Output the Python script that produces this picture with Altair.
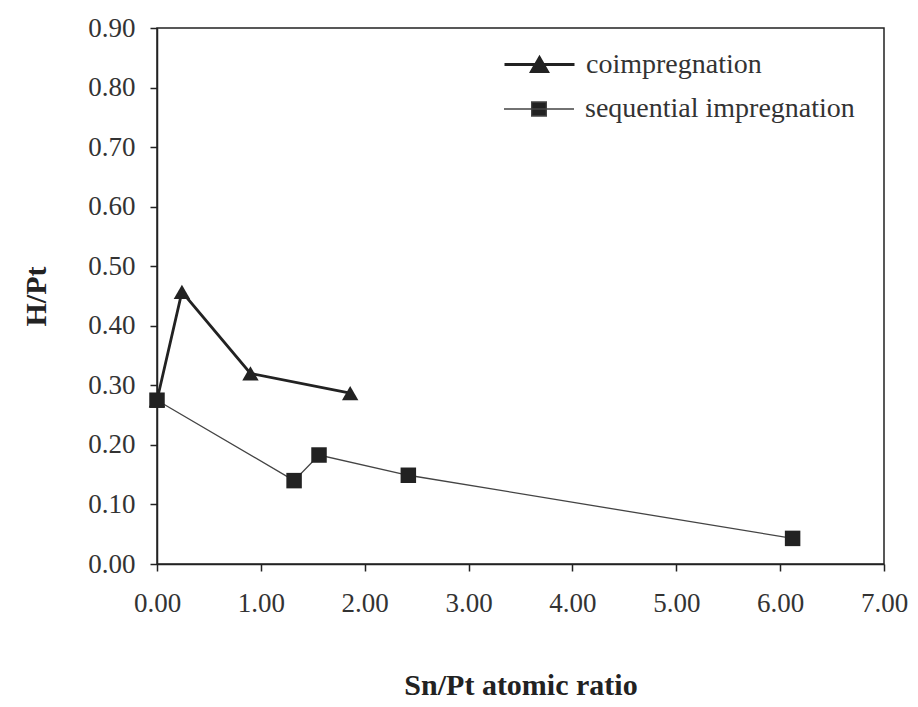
import altair as alt
import pandas as pd

# ---- data ----
series_names = ["coimpregnation", "sequential impregnation"]
coimp_x = [0.00, 0.24, 0.90, 1.86]
coimp_y = [0.275, 0.457, 0.320, 0.287]
seq_x = [0.00, 1.32, 1.56, 2.42, 6.12]
seq_y = [0.275, 0.140, 0.183, 0.149, 0.043]
x_ticks = [0, 1, 2, 3, 4, 5, 6, 7]
y_ticks = [0.0, 0.1, 0.2, 0.3, 0.4, 0.5, 0.6, 0.7, 0.8, 0.9]

df_c = pd.DataFrame({"x": coimp_x, "y": coimp_y, "series": series_names[0]})
df_s = pd.DataFrame({"x": seq_x, "y": seq_y, "series": series_names[1]})

FONT = "Liberation Serif"
INK = "#222222"
TEXT = "#333333"

x_enc = alt.X(
    "x:Q",
    scale=alt.Scale(domain=[0, 7], nice=False, zero=False),
    axis=alt.Axis(values=x_ticks, format=".2f", title="Sn/Pt atomic ratio",
                  labelPadding=19, titlePadding=54, labelFlush=False),
)
y_enc = alt.Y(
    "y:Q",
    scale=alt.Scale(domain=[0, 0.9], nice=False),
    axis=alt.Axis(values=y_ticks, format=".2f", title="H/Pt",
                  labelPadding=15, titlePadding=36, labelFlush=False),
)

TRI_PATH = "M-1,0L1,0M-0.23,0.2L0,-0.2L0.23,0.2Z"
SQ_PATH = "M-1,0L1,0M-0.21,-0.2L0.21,-0.2L0.21,0.2L-0.21,0.2Z"


def legend(path, sw, ly):
    return alt.Legend(
        title=None, orient="none", legendX=346, legendY=ly,
        symbolType=path, symbolSize=4900, symbolStrokeWidth=sw,
        symbolFillColor=INK, symbolStrokeColor=INK, symbolOpacity=1,
        labelOffset=10, padding=0, labelFont=FONT, labelFontSize=28,
        labelColor=TEXT, labelLimit=400,
    )


line_c = alt.Chart(df_c).mark_line(strokeWidth=2.8).encode(
    x=x_enc, y=y_enc,
    color=alt.Color("series:N", scale=alt.Scale(domain=[series_names[0]], range=[INK]),
                    legend=legend(TRI_PATH, 2.8, 0)),
)
pts_c = alt.Chart(df_c).mark_point(shape="triangle-up", filled=True, size=270, opacity=1).encode(
    x="x:Q", y="y:Q", color=alt.value(INK),
)
line_s = alt.Chart(df_s).mark_line(strokeWidth=1.3).encode(
    x="x:Q", y="y:Q",
    color=alt.Color("series:N", scale=alt.Scale(domain=[series_names[1]], range=["#444444"]),
                    legend=legend(SQ_PATH, 1.3, 45)),
)
pts_s = alt.Chart(df_s).mark_point(shape="square", filled=True, size=240, opacity=1).encode(
    x="x:Q", y="y:Q", color=alt.value(INK),
)

chart = (
    alt.layer(line_c, pts_c, line_s, pts_s)
    .resolve_scale(color="independent")
    .resolve_legend(color="independent")
    .properties(
        width=727, height=536,
        autosize=alt.AutoSizeParams(type="none"),
        padding={"left": 149, "top": 20, "right": 26, "bottom": 135},
        background="white",
    )
    .configure_view(stroke=INK, strokeWidth=1.5)
    .configure_axis(
        grid=False, domainColor=INK, domainWidth=1.5, tickColor=INK, tickWidth=1.5,
        tickSize=7, labelFont=FONT, labelFontSize=27, labelColor=TEXT,
        titleFont=FONT, titleFontSize=30, titleFontWeight="bold", titleColor=INK,
    )
)

chart.save("out.html", embed_options={"renderer": "svg", "actions": False})
